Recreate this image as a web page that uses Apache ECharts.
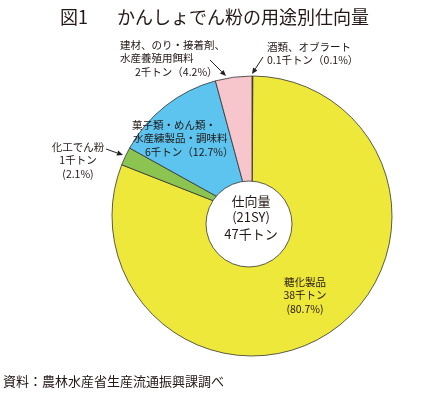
<!DOCTYPE html>
<html><head><meta charset="utf-8">
<script src="https://cdn.jsdelivr.net/npm/echarts@6/dist/echarts.min.js"></script>
<style>html,body{margin:0;padding:0;background:#fff}#c{width:442px;height:395px}</style>
</head><body><div id="c"></div>
<script>
// ---- data ----
const categories = ['酒類、オブラート', '糖化製品', '化工でん粉', '菓子類・めん類・水産練製品・調味料', '建材、のり・接着剤、水産養殖用餌料'];
const tons = [0.1, 38, 1, 6, 2];            // 千トン
const percents = [0.1, 80.7, 2.1, 12.7, 4.2]; // %
const colors = ['#555555', '#EEE83A', '#8CC451', '#5CC4EE', '#F6C6CC'];
const titleText = ['図1', 'かんしょでん粉の用途別仕向量'];
const centerText = ['仕向量', '(21SY)', '47千トン'];
const sourceText = '資料：農林水産省生産流通振興課調べ';

const FONT = '"Noto Sans CJK JP", "Noto Sans", sans-serif';
const TXT = '#231815';
const chart = echarts.init(document.getElementById('c'), null, {renderer: 'canvas'});

// label texts (line layouts)
const labelLines = [
  [categories[0], tons[0] + '千トン（' + percents[0] + '%）'],
  ['糖化製品', tons[1] + '千トン', '(' + percents[1] + '%)'],
  ['化工でん粉', tons[2] + '千トン', '(' + percents[2] + '%)'],
  ['菓子類・めん類・', '水産練製品・調味料', tons[3] + '千トン（' + percents[3] + '%）'],
  ['建材、のり・接着剤、', '水産養殖用餌料', tons[4] + '千トン（' + percents[4] + '%）']
];
// annotation placement
const labelPos = [
  {x: 267, y: 47, align: 'left', indent: [0, 0]},
  {x: 305, y: 282, align: 'center'},
  {x: 78, y: 147, align: 'center'},
  {x: 132, y: 125, align: 'left', indent: [0, 1, 13]},
  {x: 120, y: 45, align: 'left', indent: [0, 0, 15]}
];
const LH = 13.5;
const arrows = [
  [263, 57, 252, 74],
  [210, 60, 226, 76],
  [106, 149, 123, 155]
];

const graphics = [];
graphics.push({type: 'text', left: 60, top: 8, style: {text: titleText[0], font: '18px ' + FONT, fill: TXT}});
graphics.push({type: 'text', left: 117, top: 8, style: {text: titleText[1], font: '18px ' + FONT, fill: TXT}});
graphics.push({type: 'text', left: 3, top: 375, style: {text: sourceText, font: '13px ' + FONT, fill: TXT}});
labelLines.forEach((lines, i) => {
  const p = labelPos[i];
  lines.forEach((t, j) => {
    const ind = p.indent ? (p.indent[j] || 0) : 0;
    graphics.push({type: 'text', x: p.x + ind, y: p.y + j * LH, z: 10,
      style: {text: t, font: '10.5px ' + FONT, fill: TXT, textAlign: p.align, textVerticalAlign: 'middle'}});
  });
});
arrows.forEach(a => {
  const [x1, y1, x2, y2] = a;
  const ang = Math.atan2(y2 - y1, x2 - x1);
  const L = 6, W = 2.6;
  const bx = x2 - L * Math.cos(ang), by = y2 - L * Math.sin(ang);
  graphics.push({type: 'line', z: 10, shape: {x1, y1, x2: bx, y2: by}, style: {stroke: '#222', lineWidth: 1}});
  graphics.push({type: 'polygon', z: 10, shape: {points: [[x2, y2],
    [bx + W * Math.sin(ang), by - W * Math.cos(ang)], [bx - W * Math.sin(ang), by + W * Math.cos(ang)]]},
    style: {fill: '#222'}});
});
centerText.forEach((t, j) => {
  graphics.push({type: 'text', x: 251, y: 201 + j * 16.5, z: 20,
    style: {text: t, font: '13px ' + FONT, fill: TXT, textAlign: 'center', textVerticalAlign: 'middle'}});
});

chart.setOption({
  animation: false,
  series: [{
    type: 'pie',
    center: [252, 216],
    radius: [0, 140],
    startAngle: 90,
    clockwise: true,
    label: {show: false},
    labelLine: {show: false},
    emphasis: {disabled: true},
    itemStyle: {borderColor: '#333', borderWidth: 0.8},
    data: categories.map((c, i) => ({name: c, value: percents[i], itemStyle: {color: colors[i]}}))
  }, {
    type: 'pie',
    center: [249, 224],
    radius: [0, 43],
    label: {show: false},
    labelLine: {show: false},
    emphasis: {disabled: true},
    silent: true,
    z: 5,
    itemStyle: {color: '#fff', borderColor: '#333', borderWidth: 0.8},
    data: [{name: '仕向量', value: tons.reduce((a, b) => a + b, 0)}]
  }],
  graphic: graphics
});
</script></body></html>
